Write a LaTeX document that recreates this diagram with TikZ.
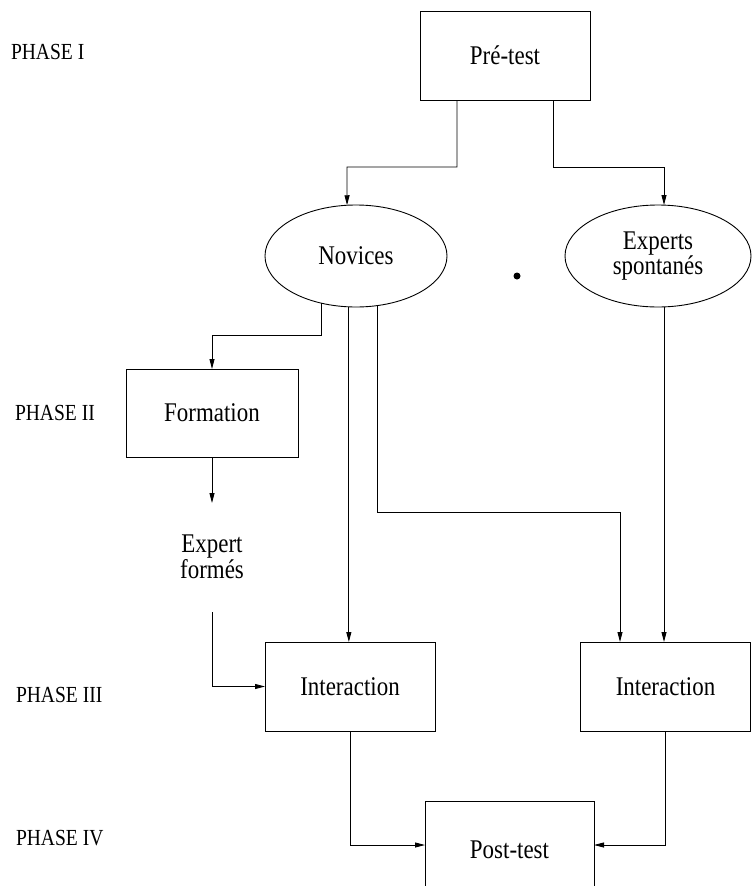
\documentclass[tikz,border=0pt]{standalone}
\usepackage{fontspec}
\setmainfont{Liberation Serif}[FakeStretch=0.85]
\usetikzlibrary{arrows.meta,shapes.geometric}
\begin{document}
\begin{tikzpicture}[x=1bp,y=-1bp,
  every node/.style={inner sep=0pt, outer sep=0pt},
  lab/.style={font=\fontsize{27bp}{22bp}\selectfont, align=center},
  phase/.style={font=\fontsize{23bp}{23bp}\selectfont, anchor=west},
  box/.style={lab, draw, line width=0.9bp, minimum width=#1, minimum height=89bp},
  oval/.style={lab, draw, ellipse, line width=0.9bp, minimum width=#1, minimum height=102bp},
  arr/.style={line width=0.9bp, -{Triangle[length=10bp,width=5bp]}},
  ln/.style={line width=0.9bp}]
\useasboundingbox (0,0) rectangle (752,886);
% phase labels
\node[phase] (p1) at (11,52) {PHASE I};
\node[phase] (p2) at (15,413) {PHASE II};
\node[phase] (p3) at (16,695) {PHASE III};
\node[phase] (p4) at (16,838) {PHASE IV};
% nodes
\node[box=170bp] (pre) at (505,55.5) {Pré-test};
\node[oval=182bp] (novices) at (356,256) {Novices};
\node[oval=186bp] (experts) at (658,256) {Experts\\spontanés};
\node[box=172bp, minimum height=88bp] (formation) at (212,413) {Formation};
\node[lab] (eform) at (212,557) {Expert\\formés};
\node[box=170bp] (inter1) at (350,686.5) {Interaction};
\node[box=170bp] (inter2) at (665.5,686.5) {Interaction};
\node[box=169bp, minimum height=98bp] (post) at (509.5,850) {Post-test};
\fill (517,276) circle (3.5bp);
% helper coordinates
\coordinate (pl) at (347,167);
\coordinate (pr) at (664,167);
\coordinate (l335) at (212,335);
\coordinate (r512) at (620,512);
\coordinate (fe) at (212,503);
\coordinate (fs) at (212,612);
% connectors
\draw[arr] ([xshift=-48bp]pre.south) |- (pl) -- (novices.100);
\draw[arr] ([xshift=48bp]pre.south) |- (pr) -- (pr |- experts.north);
\draw[arr] (novices.234) |- (l335) -- (formation.north);
\draw[arr] (formation.south) -- (fe);
\draw[arr] (fs) |- (inter1.west);
\draw[arr] (novices.262) -- (novices.262 |- inter1.north);
\draw[arr] (novices.293) |- (r512) -- (r512 |- inter2.north);
\draw[arr] (experts.south -| pr) -- (pr |- inter2.north);
\draw[arr] (inter1.south) |- ([yshift=5bp]post.west);
\draw[arr] (inter2.south) |- ([yshift=5bp]post.east);
\end{tikzpicture}
\end{document}
